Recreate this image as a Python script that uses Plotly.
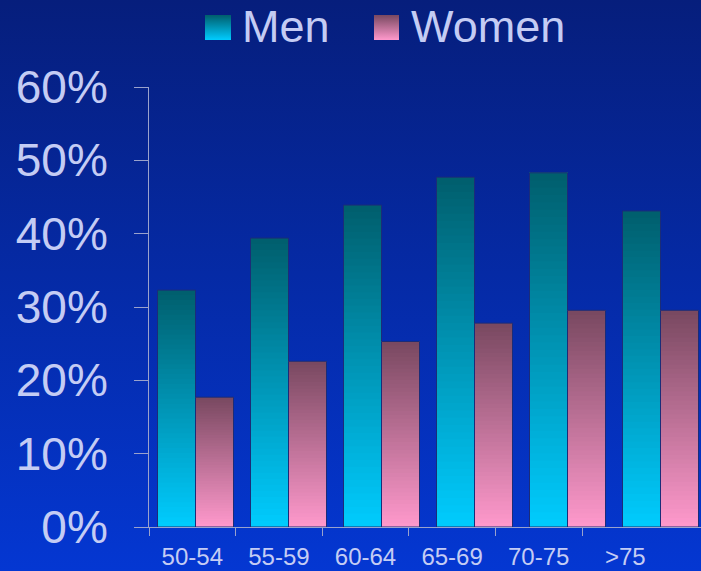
import base64
import plotly.graph_objects as go

# ---- data ----
age_groups = ["50-54", "55-59", "60-64", "65-69", "70-75", ">75"]
men = [0.323, 0.394, 0.439, 0.477, 0.483, 0.431]
women = [0.177, 0.226, 0.253, 0.278, 0.2955, 0.2955]
y_ticks = [0, 0.1, 0.2, 0.3, 0.4, 0.5, 0.6]
y_tick_labels = ["0%", "10%", "20%", "30%", "40%", "50%", "60%"]

# ---- style ----
W, H = 701, 571
L, R, T, B = 149, 0, 87, 44
PW, PH = W - L - R, H - T - B
TEXT = "#C4CCF4"
AXIS = "#9AA2CC"
FONT = "Liberation Sans, Arial, sans-serif"
MEN_TOP, MEN_BOT = (0x00, 0x5E, 0x6C), (0x00, 0xCC, 0xFF)
WOM_TOP, WOM_BOT = (0x78, 0x48, 0x60), (0xFF, 0x99, 0xCC)
N_STEPS = 48
GROUP_PX = 93.0
BAR_W = 38.0 / GROUP_PX
LABEL_SCALE = 86.6 / GROUP_PX

x_idx = list(range(len(age_groups)))


def mix(c0, c1, t):
    return "rgb(%d,%d,%d)" % tuple(round(a + (b - a) * t) for a, b in zip(c0, c1))


def svg_uri(svg):
    return "data:image/svg+xml;base64," + base64.b64encode(svg.encode()).decode()


def grad_svg(top, bot, w, h):
    s = ('<svg xmlns="http://www.w3.org/2000/svg" width="%d" height="%d" preserveAspectRatio="none" viewBox="0 0 %d %d">'
         '<defs><linearGradient id="g" x1="0" y1="0" x2="0" y2="1">'
         '<stop offset="0" stop-color="%s"/><stop offset="1" stop-color="%s"/></linearGradient></defs>'
         '<rect x="0" y="0" width="%d" height="%d" fill="url(#g)"/></svg>') % (
        w, h, w, h, top, bot, w, h)
    return svg_uri(s)


def px_x(px):
    return (px - L) / PW


def px_y(py):
    return (H - B - py) / PH


fig = go.Figure()


def add_gradient_bars(values, offset, top, bot):
    for k in range(N_STEPS):
        frac = k / N_STEPS
        fig.add_trace(go.Bar(
            x=x_idx,
            base=[v * frac for v in values],
            y=[v * (1 - frac) for v in values],
            width=BAR_W, offset=offset,
            marker=dict(color=mix(bot, top, (k + 0.5) / N_STEPS), line=dict(width=0)),
            showlegend=False, hoverinfo="skip",
        ))
    fig.add_trace(go.Bar(
        x=x_idx, y=values, width=BAR_W, offset=offset,
        marker=dict(color="rgba(0,0,0,0)", line=dict(width=1, color="#1B2C78")),
        showlegend=False, hoverinfo="skip",
    ))


add_gradient_bars(men, -BAR_W, MEN_TOP, MEN_BOT)
add_gradient_bars(women, 0.0, WOM_TOP, WOM_BOT)

label_pos = [-0.5 + (k + 0.5) * LABEL_SCALE for k in x_idx]
bound_pos = [-0.5 + k * LABEL_SCALE for k in x_idx]

images = [
    dict(source=grad_svg("#061E7C", "#0437D2", 100, 100), xref="paper", yref="paper",
         x=px_x(0), y=px_y(0), sizex=W / PW, sizey=H / PH, sizing="stretch",
         xanchor="left", yanchor="top", layer="below"),
    dict(source=grad_svg("rgb(0,94,108)", "rgb(0,204,255)", 26, 25), xref="paper", yref="paper",
         x=px_x(205), y=px_y(15), sizex=26 / PW, sizey=25 / PH, sizing="stretch",
         xanchor="left", yanchor="top", layer="above"),
    dict(source=grad_svg("rgb(120,72,96)", "rgb(255,153,204)", 25, 25), xref="paper", yref="paper",
         x=px_x(374), y=px_y(15), sizex=25 / PW, sizey=25 / PH, sizing="stretch",
         xanchor="left", yanchor="top", layer="above"),
]

annotations = [
    dict(text="Men", xref="paper", yref="paper", x=px_x(240), y=px_y(27),
         xanchor="left", yanchor="middle", showarrow=False,
         font=dict(size=45, color=TEXT, family=FONT)),
    dict(text="Women", xref="paper", yref="paper", x=px_x(409), y=px_y(27),
         xanchor="left", yanchor="middle", showarrow=False,
         font=dict(size=45, color=TEXT, family=FONT)),
]

fig.update_layout(
    width=W, height=H,
    margin=dict(l=L, r=R, t=T, b=B, pad=0, autoexpand=False),
    paper_bgcolor="#0436CC",
    plot_bgcolor="rgba(0,0,0,0)",
    barmode="overlay",
    showlegend=False,
    images=images,
    annotations=annotations,
    font=dict(family=FONT, color=TEXT),
    xaxis=dict(
        range=[-0.5, -0.5 + PW / GROUP_PX],
        automargin=False,
        tickmode="array", tickvals=label_pos, ticktext=age_groups,
        ticks="", showgrid=False, zeroline=False,
        showline=True, linecolor=AXIS, linewidth=1,
        tickfont=dict(size=24, color=TEXT, family=FONT),
        ticklabelstandoff=8,
        minor=dict(tickmode="array", tickvals=bound_pos, ticks="outside",
                   ticklen=8, tickcolor=AXIS, tickwidth=1, showgrid=False),
    ),
    yaxis=dict(
        range=[0, 0.6],
        automargin=False,
        tickmode="array", tickvals=y_ticks, ticktext=y_tick_labels,
        ticks="outside", ticklen=14, tickcolor=AXIS, tickwidth=1,
        showgrid=False, zeroline=False,
        showline=True, linecolor=AXIS, linewidth=1,
        tickfont=dict(size=46, color=TEXT, family=FONT),
        ticklabelstandoff=17,
    ),
)

fig.write_html(
    "out.html",
    config={"displayModeBar": False},
    post_script="document.body.style.margin='0';document.body.style.overflow='hidden';",
)
